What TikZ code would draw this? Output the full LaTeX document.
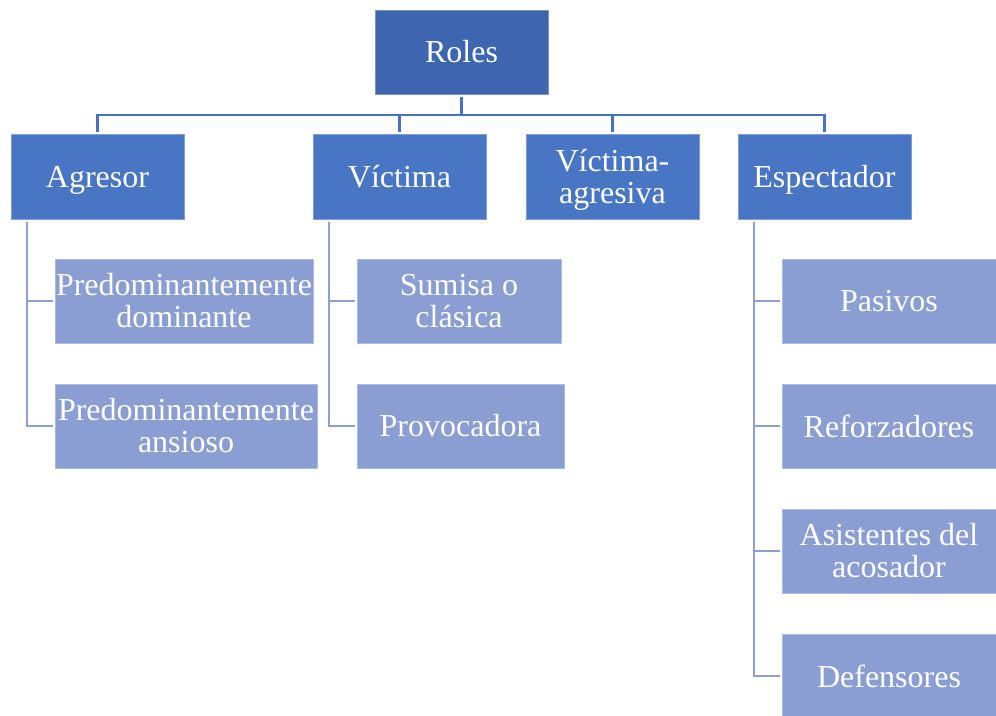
\documentclass[tikz,border=0pt]{standalone}
\usepackage{fontspec}
\setmainfont{Liberation Serif}

\definecolor{raiz}{RGB}{62,102,176}
\definecolor{nivel}{RGB}{72,118,196}
\definecolor{hoja}{RGB}{138,158,211}
\definecolor{linea}{RGB}{72,115,196}
\definecolor{lineaclara}{RGB}{141,160,212}

% ultima linea sin profundidad, para centrar el texto como en el original
\newcommand{\sinprof}[1]{\raisebox{0pt}[\height][0pt]{#1}}

\begin{document}
\begin{tikzpicture}[x=1pt, y=-1pt,
    caja/.style={rectangle, inner sep=0pt, outer sep=2.5pt, align=center, text=white,
        font=\fontsize{32}{32}\selectfont, line width=1pt,
        execute at begin node={\rule{0pt}{22pt}}},
    raizbox/.style={caja, fill=raiz, draw=raiz!70!white, minimum width=173pt, minimum height=84pt},
    nivelbox/.style={caja, fill=nivel, draw=nivel!70!white, minimum width=173pt, minimum height=85pt},
    hojabox/.style={caja, fill=hoja, draw=hoja!70!white, minimum height=84pt},
    enlace/.style={draw=linea, line width=2.6pt},
    subenlace/.style={draw=lineaclara, line width=2.6pt}]

    \useasboundingbox (0,0) rectangle (996,715);

    % -- Raiz --
    \node[raizbox] (roles) at (461.5,52) {Roles};

    % -- Primer nivel: los cuatro roles --
    \node[nivelbox] (agresor)    at (97.5,176.5)  {\sinprof{Agresor}};
    \node[nivelbox] (victima)    at (399.5,176.5) {Víctima};
    \node[nivelbox] (victagr)    at (612.5,176.5) {Víctima-\\\sinprof{agresiva}};
    \node[nivelbox] (espectador) at (824.5,176.5) {\sinprof{Espectador}};

    % Barra horizontal que une la raiz con el primer nivel
    \coordinate (bus) at (461.5,115);
    \draw[enlace] (roles.south) -- (bus);
    \draw[enlace] (agresor.north) |- (bus);
    \draw[enlace] (victima.north) |- (bus);
    \draw[enlace] (victagr.north) |- (bus);
    \draw[enlace] (espectador.north) |- (bus);

    % -- Hijos de Agresor --
    \node[hojabox, minimum width=258pt] (dominante) at (184,301) {Predominantemente\\dominante};
    \node[hojabox, minimum width=262pt] (ansioso)   at (186,426) {Predominantemente\\ansioso};
    \draw[subenlace] ([xshift=18.5pt]agresor.south west) |- (dominante.west);
    \draw[subenlace] ([xshift=18.5pt]agresor.south west) |- (ansioso.west);

    % -- Hijos de Victima --
    \node[hojabox, minimum width=204pt] (sumisa)      at (459,301)   {Sumisa o\\clásica};
    \node[hojabox, minimum width=207pt] (provocadora) at (460.5,426) {Provocadora};
    \draw[subenlace] ([xshift=18.5pt]victima.south west) |- (sumisa.west);
    \draw[subenlace] ([xshift=18.5pt]victima.south west) |- (provocadora.west);

    % -- Hijos de Espectador --
    \node[hojabox, minimum width=214pt] (pasivos)      at (889,301) {Pasivos};
    \node[hojabox, minimum width=214pt] (reforzadores) at (889,426) {Reforzadores};
    \node[hojabox, minimum width=214pt] (asistentes)   at (889,551) {Asistentes del\\acosador};
    \node[hojabox, minimum width=214pt] (defensores)   at (889,676) {Defensores};
    \foreach \hijo in {pasivos, reforzadores, asistentes, defensores}
        \draw[subenlace] ([xshift=18.5pt]espectador.south west) |- (\hijo.west);
\end{tikzpicture}
\end{document}
